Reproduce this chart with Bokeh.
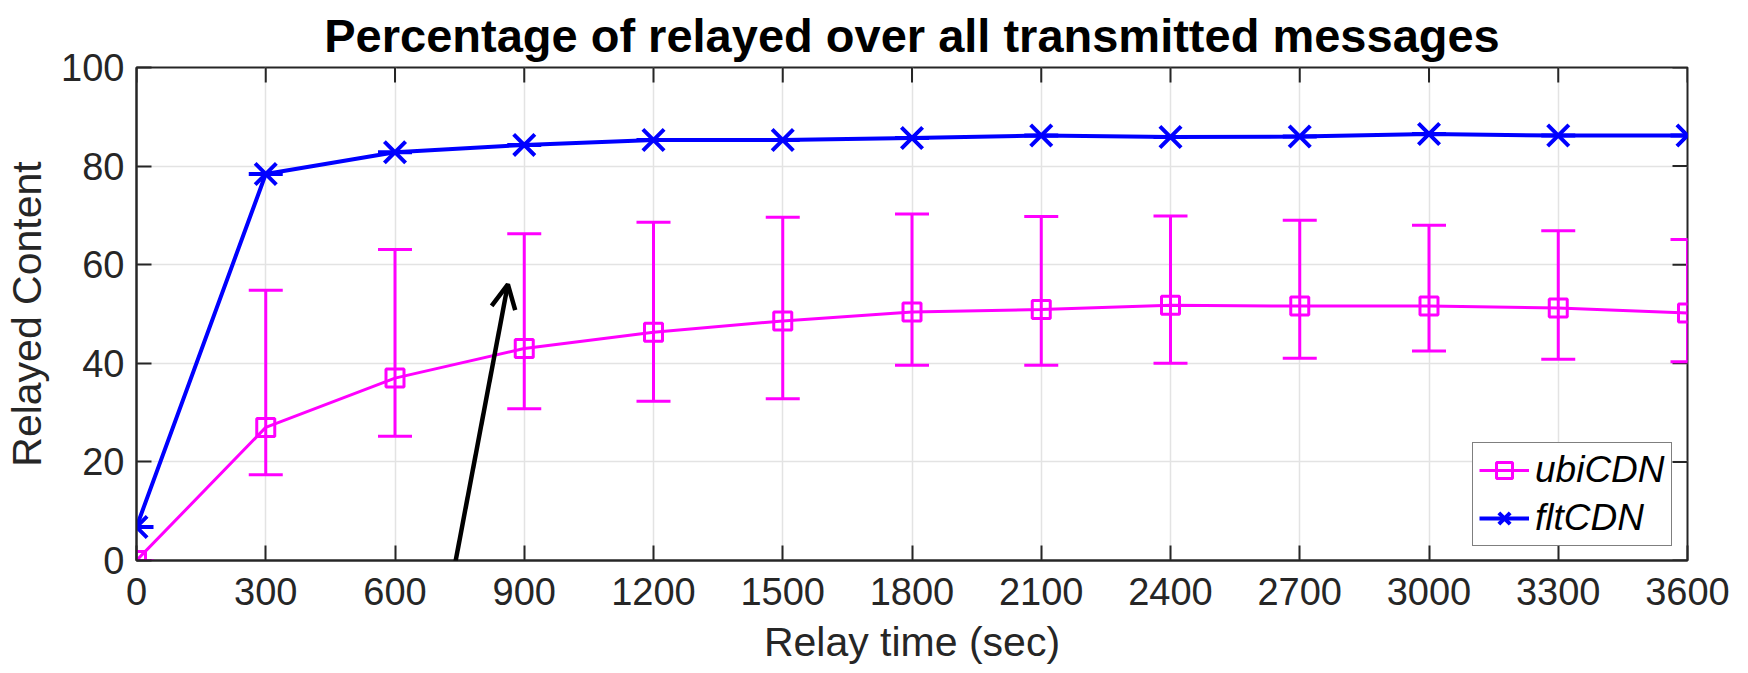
import math
from bokeh.plotting import figure
from bokeh.models import (FixedTicker, Legend, LegendItem, Arrow, OpenHead, ColumnDataSource)
from bokeh.embed import file_html
from bokeh.resources import INLINE

# ---------------- data ----------------
relay_time = [0, 300, 600, 900, 1200, 1500, 1800, 2100, 2400, 2700, 3000, 3300, 3600]
ubi_mean  = [0.0, 27.0, 37.0, 43.0, 46.3, 48.6, 50.4, 50.9, 51.8, 51.6, 51.6, 51.2, 50.2]
ubi_upper = [0.0, 54.8, 63.1, 66.3, 68.6, 69.6, 70.3, 69.8, 69.9, 69.0, 68.0, 66.9, 65.1]
ubi_lower = [0.0, 17.4, 25.2, 30.8, 32.3, 32.8, 39.6, 39.6, 40.0, 41.0, 42.5, 40.8, 40.3]
flt_mean  = [6.8, 78.4, 82.8, 84.3, 85.3, 85.3, 85.7, 86.2, 85.9, 86.0, 86.5, 86.2, 86.2]

x_ticks = [0, 300, 600, 900, 1200, 1500, 1800, 2100, 2400, 2700, 3000, 3300, 3600]
y_ticks = [0, 20, 40, 60, 80, 100]
x_limits = (0, 3600)
y_limits = (0, 100)

arrow_start = (676, -30)
arrow_end = (862, 56)

title_text = "Percentage of relayed over all transmitted messages"
x_label = "Relay time (sec)"
y_label = "Relayed Content"
series_names = ["ubiCDN", "fltCDN"]

MAGENTA = "#ff00ff"
BLUE = "#0000ff"
AX = "#262626"
FONT = "Liberation Sans"

p = figure(width=1748, height=673, x_range=x_limits, y_range=y_limits,
           output_backend="svg", toolbar_location=None,
           min_border_left=136, min_border_right=61, min_border_top=67, min_border_bottom=113,
           title=title_text)
p.title.text_font = FONT
p.title.text_font_size = "47px"
p.title.text_font_style = "bold"
p.title.align = "center"
p.title.text_color = "black"
p.title.standoff = 12

p.outline_line_color = AX
p.outline_line_width = 2
p.background_fill_color = "white"
p.border_fill_color = "white"

for ax, ticks in ((p.xaxis[0], x_ticks), (p.yaxis[0], y_ticks)):
    ax.ticker = FixedTicker(ticks=ticks)
    ax.major_tick_in = 15
    ax.major_tick_out = 0
    ax.minor_tick_line_color = None
    ax.axis_line_color = AX
    ax.axis_line_width = 2
    ax.major_tick_line_color = AX
    ax.major_tick_line_width = 2
    ax.major_label_text_font = FONT
    ax.major_label_text_font_size = "38px"
    ax.major_label_text_color = AX
    ax.axis_label_text_font = FONT
    ax.axis_label_text_font_size = "41px"
    ax.axis_label_text_font_style = "normal"
    ax.axis_label_text_color = AX

p.xaxis[0].axis_label = x_label
p.yaxis[0].axis_label = y_label
p.xaxis[0].major_label_standoff = 17
p.xaxis[0].axis_label_standoff = 11
p.yaxis[0].major_label_standoff = 12
p.yaxis[0].axis_label_standoff = 8

p.xgrid.ticker = FixedTicker(ticks=x_ticks)
p.ygrid.ticker = FixedTicker(ticks=y_ticks)
p.xgrid.grid_line_color = "#e3e3e3"
p.ygrid.grid_line_color = "#e3e3e3"
p.xgrid.grid_line_width = 1.5
p.ygrid.grid_line_width = 1.5

# mirrored tick marks on top and right edges (outer half clipped by the frame)
p.scatter(x=x_ticks, y=[y_limits[1]] * len(x_ticks), marker="dash", angle=math.pi / 2,
          size=30, line_color=AX, line_width=2)
p.scatter(x=[x_limits[1]] * len(y_ticks), y=y_ticks, marker="dash",
          size=30, line_color=AX, line_width=2)

src = ColumnDataSource(dict(x=relay_time, ubi=ubi_mean, up=ubi_upper, lo=ubi_lower, flt=flt_mean))

# ubiCDN error bars
p.segment(x0="x", y0="lo", x1="x", y1="up", source=src, line_color=MAGENTA, line_width=3)
p.scatter(x="x", y="up", source=src, marker="dash", size=34, line_color=MAGENTA, line_width=3)
p.scatter(x="x", y="lo", source=src, marker="dash", size=34, line_color=MAGENTA, line_width=3)
ubi_line = p.line(x="x", y="ubi", source=src, line_color=MAGENTA, line_width=3)
ubi_mk = p.scatter(x="x", y="ubi", source=src, marker="square", size=18, fill_color=None,
                   line_color=MAGENTA, line_width=3)

# fltCDN (zero-size error caps)
p.scatter(x="x", y="flt", source=src, marker="dash", size=34, line_color=BLUE, line_width=4)
flt_line = p.line(x="x", y="flt", source=src, line_color=BLUE, line_width=4)
flt_mk = p.scatter(x="x", y="flt", source=src, marker="x", size=30, line_color=BLUE, line_width=4)

legend = Legend(items=[LegendItem(label=series_names[0], renderers=[ubi_line, ubi_mk]),
                       LegendItem(label=series_names[1], renderers=[flt_line, flt_mk])],
                location=(1336, 14))
legend.label_text_font = FONT
legend.label_text_font_size = "37px"
legend.label_text_font_style = "italic"
legend.label_text_color = "black"
legend.border_line_color = "black"
legend.border_line_width = 1.5
legend.background_fill_color = "white"
legend.background_fill_alpha = 1
legend.glyph_width = 50
legend.glyph_height = 40
legend.label_height = 40
legend.label_standoff = 6
legend.spacing = 6
legend.padding = 6
legend.margin = 0
p.add_layout(legend)

p.add_layout(Arrow(end=OpenHead(size=24, line_width=4.5, line_color="black"),
                   x_start=arrow_start[0], y_start=arrow_start[1],
                   x_end=arrow_end[0], y_end=arrow_end[1],
                   line_width=4.5, line_color="black"))

open("out.html", "w").write(file_html(p, INLINE))
